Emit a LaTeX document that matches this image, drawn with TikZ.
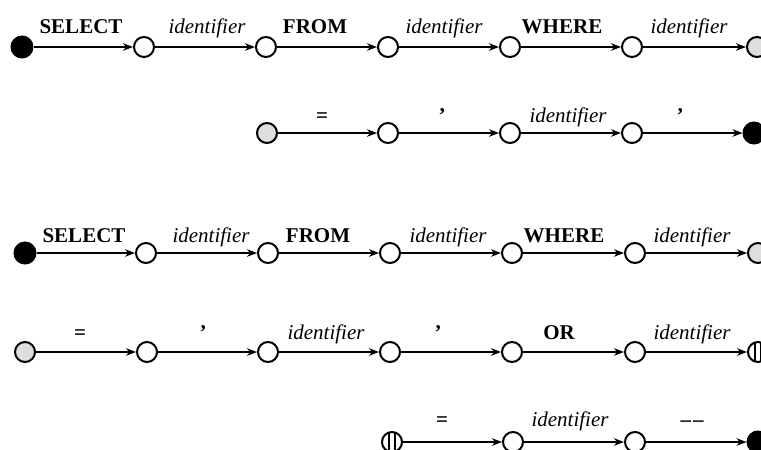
\documentclass[tikz,border=0pt]{standalone}
\usepackage{fontspec}
\setmainfont{Liberation Serif}
\usetikzlibrary{arrows.meta}
\definecolor{lgray}{HTML}{DEDEDE}
\tikzset{
  st/.style={circle,draw=black,line width=2pt,fill=white,minimum size=20pt,inner sep=0pt},
  stb/.style={st,fill=black,minimum size=21pt},
  stg/.style={st,fill=lgray},
  sts/.style={st,path picture={
     \draw[line width=1.7pt] ([xshift=-3.2pt]path picture bounding box.north) -- ([xshift=-3.2pt]path picture bounding box.south);
     \draw[line width=1.7pt] ([xshift=3.2pt]path picture bounding box.north) -- ([xshift=3.2pt]path picture bounding box.south);}},
  conn/.style={line width=1.8pt,-{Stealth[length=10pt,width=7.5pt]}},
  lab/.style={anchor=base,inner sep=0pt,font=\fontsize{21}{24}\selectfont},
  kw/.style={lab,font=\fontsize{21}{24}\selectfont\bfseries},
  idlab/.style={lab,font=\fontsize{21}{24}\selectfont\itshape},
}
\begin{document}
\begin{tikzpicture}[x=1pt,y=-1pt]
\useasboundingbox (0,0) rectangle (761,450);
% Row 1
\node[stb] (a0) at (22,47) {};
\node[st] (a1) at (144,47) {};
\node[st] (a2) at (266,47) {};
\node[st] (a3) at (388,47) {};
\node[st] (a4) at (510,47) {};
\node[st] (a5) at (632,47) {};
\node[stg] (a6) at (757,47) {};
\foreach \i/\j in {a0/a1,a1/a2,a2/a3,a3/a4,a4/a5,a5/a6} \draw[conn] (\i) -- (\j);
\node[kw] (la1) at (81,33) {SELECT};
\node[idlab] (la2) at (207,33) {identifier};
\node[kw] (la3) at (315,33) {FROM};
\node[idlab] (la4) at (444,33) {identifier};
\node[kw] (la5) at (562,33) {WHERE};
\node[idlab] (la6) at (689,33) {identifier};
% Row 2
\node[stg] (b0) at (267,133) {};
\node[st] (b1) at (388,133) {};
\node[st] (b2) at (510,133) {};
\node[st] (b3) at (632,133) {};
\node[stb] (b4) at (754,133) {};
\foreach \i/\j in {b0/b1,b1/b2,b2/b3,b3/b4} \draw[conn] (\i) -- (\j);
\node[kw] (lb1) at (322,122) {=};
\node[kw] (lb2) at (442,122) {’};
\node[idlab] (lb3) at (568,122) {identifier};
\node[kw] (lb4) at (680,122) {’};
% Row 3
\node[stb] (c0) at (25,253) {};
\node[st] (c1) at (146,253) {};
\node[st] (c2) at (268,253) {};
\node[st] (c3) at (390,253) {};
\node[st] (c4) at (512,253) {};
\node[st] (c5) at (635,253) {};
\node[stg] (c6) at (758,253) {};
\foreach \i/\j in {c0/c1,c1/c2,c2/c3,c3/c4,c4/c5,c5/c6} \draw[conn] (\i) -- (\j);
\node[kw] (lc1) at (84,242) {SELECT};
\node[idlab] (lc2) at (211,242) {identifier};
\node[kw] (lc3) at (318,242) {FROM};
\node[idlab] (lc4) at (448,242) {identifier};
\node[kw] (lc5) at (564,242) {WHERE};
\node[idlab] (lc6) at (692,242) {identifier};
% Row 4
\node[stg] (d0) at (25,352) {};
\node[st] (d1) at (147,352) {};
\node[st] (d2) at (268,352) {};
\node[st] (d3) at (390,352) {};
\node[st] (d4) at (512,352) {};
\node[st] (d5) at (635,352) {};
\node[sts] (d6) at (758,352) {};
\foreach \i/\j in {d0/d1,d1/d2,d2/d3,d3/d4,d4/d5,d5/d6} \draw[conn] (\i) -- (\j);
\node[kw] (ld1) at (80,339) {=};
\node[kw] (ld2) at (203,339) {’};
\node[idlab] (ld3) at (326,339) {identifier};
\node[kw] (ld4) at (438,339) {’};
\node[kw] (ld5) at (559,339) {OR};
\node[idlab] (ld6) at (692,339) {identifier};
% Row 5
\node[sts] (e0) at (392,442) {};
\node[st] (e1) at (513,442) {};
\node[st] (e2) at (635,442) {};
\node[stb] (e3) at (758,442) {};
\foreach \i/\j in {e0/e1,e1/e2,e2/e3} \draw[conn] (\i) -- (\j);
\node[kw] (le1) at (442,426) {=};
\node[idlab] (le2) at (570,426) {identifier};
\node[kw] (le3) at (692,426) {–\kern2pt–};
\end{tikzpicture}
\end{document}
